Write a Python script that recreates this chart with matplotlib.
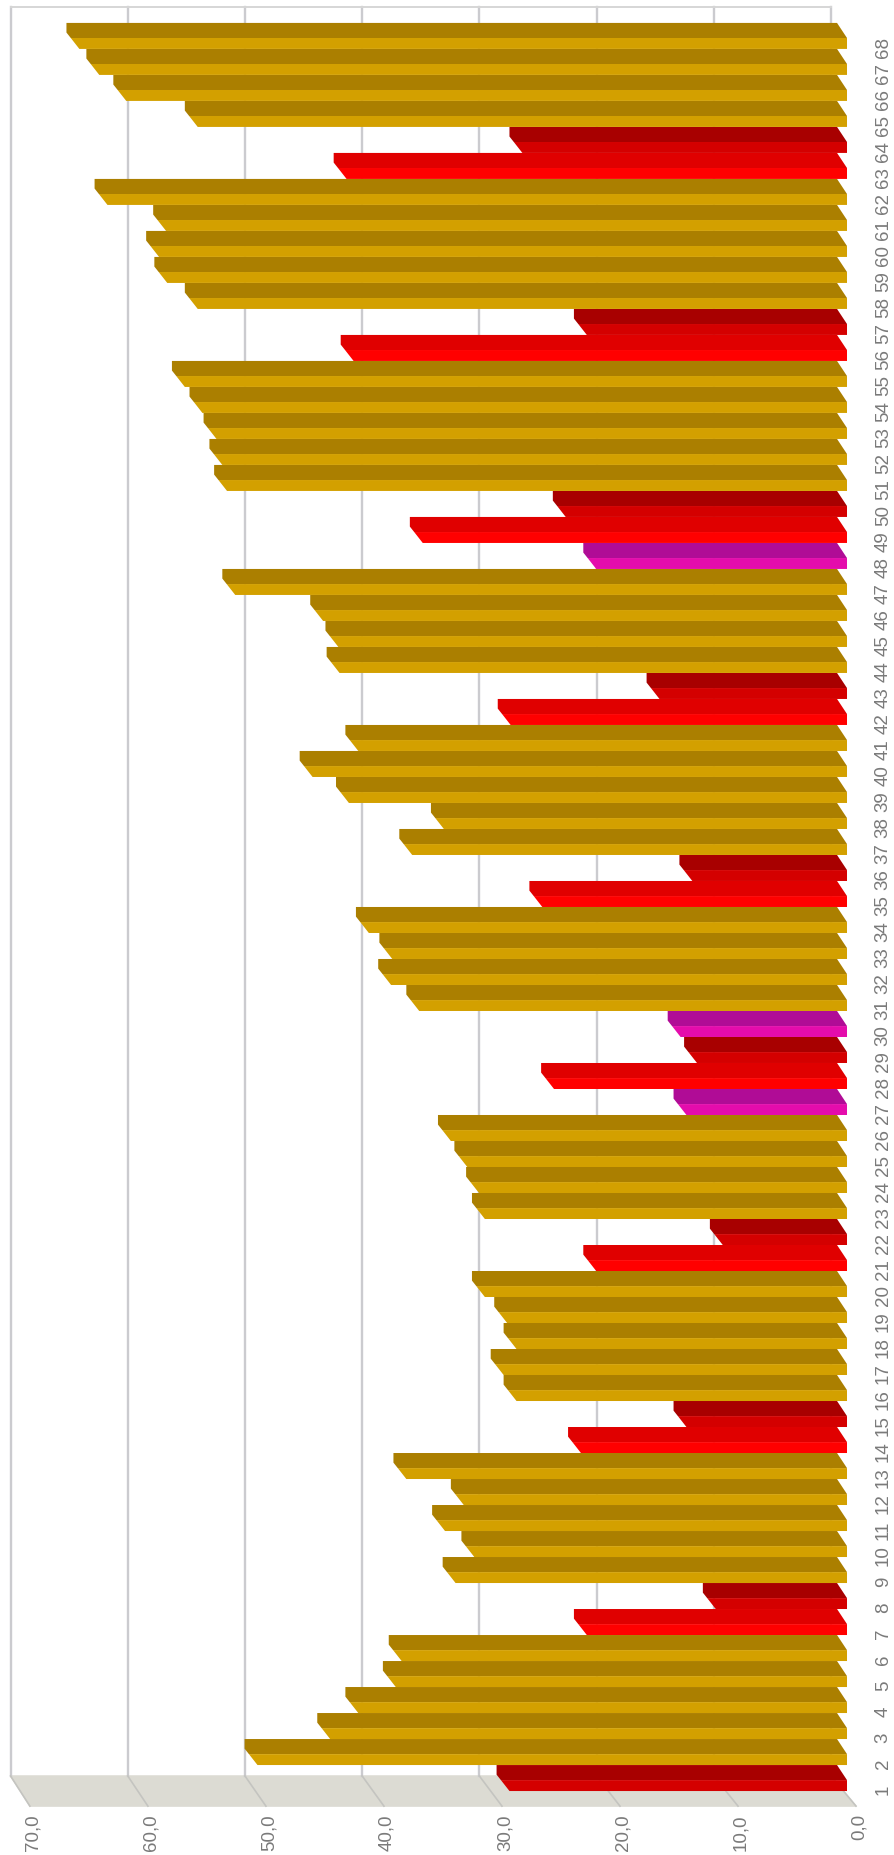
# plot.py - 3D style bar chart turned on its side
import numpy as np
import matplotlib
matplotlib.use("Agg")
import matplotlib.pyplot as plt

plt.rcParams["font.family"] = ["Liberation Sans Narrow", "Liberation Sans", "DejaVu Sans"]

# bar heights, from category 1 up to category 68
categories = list(range(1, 69))
values = [
    28.8, 50.3, 44.1, 41.7, 38.5, 38.0, 22.2, 11.2, 33.4, 31.8,
    34.3, 32.7, 37.6, 22.7, 13.7, 28.2, 29.3, 28.2, 29.0, 30.9,
    21.4, 10.6, 30.9, 31.4, 32.4, 33.8, 13.7, 25.0, 12.8, 14.2,
    36.5, 38.9, 38.8, 40.8, 26.0, 13.2, 37.1, 34.4, 42.5, 45.6,
    41.7, 28.7, 16.0, 43.3, 43.4, 44.7, 52.2, 21.4, 36.2, 24.0,
    52.9, 53.3, 53.8, 55.0, 56.5, 42.1, 22.2, 55.4, 58.0, 58.7,
    58.1, 63.1, 42.7, 27.7, 55.4, 61.5, 63.8, 65.5,
]
# G gold, R bright red, D dark red, M magenta
states = list(
    "DGGGGGRDGGGGGRDGGGGGRDGGGGMRDMGGGGRDGGGGGRDGGGGMRDGGGGGRDGGGGGRDGGGG"
)
value_ticks = [0, 10, 20, 30, 40, 50, 60, 70]
value_labels = ["0,0", "10,0", "20,0", "30,0", "40,0", "50,0", "60,0", "70,0"]

# (side face, front face)
colors = {
    "G": ("#AB7F00", "#D3A000"),
    "R": ("#E00000", "#FF0000"),
    "D": ("#A80000", "#D40000"),
    "M": ("#B00C96", "#E40CAC"),
}

fig = plt.figure(figsize=(8.94, 18.56), dpi=100)
ax = fig.add_axes([0, 0, 1, 1])
# 11.72 px per value unit, 26 px per category
ax.set_xlim(72.27, -4.01)
ax.set_ylim(-1.96, 69.42)
ax.axis("off")

# floor and walls
back_dx = 1.37
floor_back, floor_front, wall_top = 1.08, -0.08, 69.12


def front_x(t):
    return t * 1.007 - 0.77


ax.fill(
    [70 + back_dx, back_dx, front_x(0), front_x(70)],
    [floor_back, floor_back, floor_front, floor_front],
    color="#DCDBD3", zorder=1,
)
for t in value_ticks:
    ax.plot([t + back_dx, t + back_dx], [floor_back, wall_top], color="#CBCBCF", lw=1.7, zorder=2)
    ax.plot([t + back_dx, front_x(t)], [floor_back, floor_front], color="#C4C4C0", lw=1.2, zorder=2)
ax.plot([70 + back_dx, back_dx], [wall_top, wall_top], color="#D6D6D6", lw=1.4, zorder=2)

# each bar is a side strip (dark) and a front strip (light)
front_h = 0.42
for cat, val, st in zip(categories, values, states):
    low = cat - 0.5
    mid = low + front_h
    high = cat + 0.5
    side, front = colors[st]
    ax.fill(
        [0.85, val + 1.1, val + 1.1, val + 0.73, 0],
        [high, high, high - 0.37, mid, mid],
        color=side, lw=0, zorder=3,
    )
    ax.fill([0, val + 0.73, val, 0], [mid, mid, low, low], color=front, lw=0, zorder=3)

# labels
for t, lab in zip(value_ticks, value_labels):
    ax.text(front_x(t) - 0.25, -0.35, lab, rotation=90, ha="center", va="top",
            color="#7A7A7A", fontsize=13.5)
for cat in categories:
    ax.text(-3.1, cat - 0.42, str(cat), rotation=90, ha="center", va="center",
            color="#7A7A7A", fontsize=13.5)

fig.savefig("out.png", dpi=100)
